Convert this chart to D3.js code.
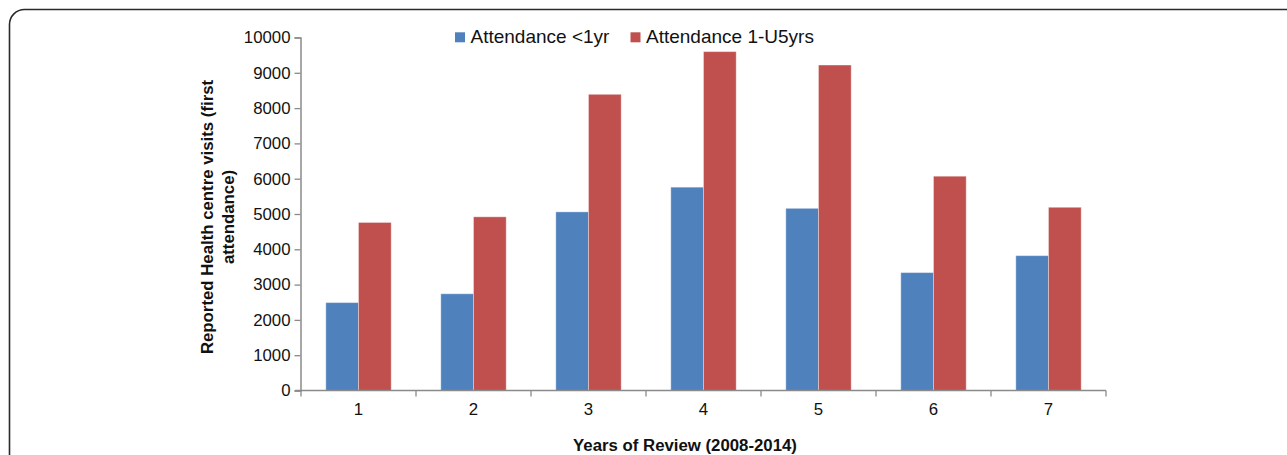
<!DOCTYPE html>
<html>
<head>
<meta charset="utf-8">
<script src="https://cdn.jsdelivr.net/npm/d3@7"></script>
<style>
  html, body { margin: 0; padding: 0; background: #fff; }
  svg { display: block; font-family: "Liberation Sans", Arial, Helvetica, sans-serif; }
</style>
</head>
<body>
<svg id="chart" width="1287" height="455"></svg>
<script>
const categories = ["1", "2", "3", "4", "5", "6", "7"];
const seriesNames = ["Attendance <1yr", "Attendance 1-U5yrs"];
const under1 = [2490, 2740, 5060, 5760, 5160, 3340, 3820];
const oneToU5 = [4760, 4920, 8390, 9600, 9220, 6070, 5190];
const yTicks = [0, 1000, 2000, 3000, 4000, 5000, 6000, 7000, 8000, 9000, 10000];
const colors = ["#4F81BD", "#C0504D"];

const svg = d3.select("#chart");

// frame
svg.append("rect")
  .attr("x", 9.5).attr("y", 9.5)
  .attr("width", 1300).attr("height", 470)
  .attr("rx", 15).attr("ry", 15)
  .attr("fill", "none").attr("stroke", "#2a2a2a").attr("stroke-width", 1.6);

const plotLeft = 301, plotRight = 1106, plotTop = 37.5, plotBottom = 390.5;

const x0 = d3.scaleBand().domain(categories).range([plotLeft, plotRight]).padding(0);
const barW = x0.bandwidth() * 0.2843;
const x1 = d3.scaleBand().domain(seriesNames)
  .range([x0.bandwidth() / 2 - barW, x0.bandwidth() / 2 + barW]).padding(0);
const y = d3.scaleLinear().domain([0, 10000]).range([plotBottom, plotTop]);

const data = categories.map((c, i) => ({ cat: c, vals: [under1[i], oneToU5[i]] }));

// bars
const g = svg.append("g");
data.forEach(d => {
  d.vals.forEach((v, si) => {
    g.append("rect")
      .attr("x", x0(d.cat) + x1(seriesNames[si]))
      .attr("y", y(v))
      .attr("width", x1.bandwidth())
      .attr("height", y(0) - y(v))
      .attr("fill", colors[si])
      .attr("stroke", "rgba(255,255,255,0.35)")
      .attr("stroke-width", 1);
  });
});

const axisColor = "#8a8a8a";

// y axis
const yAxis = svg.append("g")
  .attr("transform", `translate(${plotLeft - 0.5},0)`)
  .call(d3.axisLeft(y).tickValues(yTicks).tickSize(6).tickPadding(4).tickFormat(d3.format("d")));
yAxis.select(".domain").attr("stroke", axisColor).attr("stroke-width", 1.5);
yAxis.selectAll(".tick line").attr("stroke", axisColor).attr("stroke-width", 1.3);
yAxis.selectAll(".tick text")
  .attr("fill", "#111").attr("font-size", "16.8px")
  .attr("font-family", "'Liberation Sans', Arial, sans-serif");

// x axis labels
const xAxis = svg.append("g")
  .attr("transform", `translate(0,${plotBottom})`)
  .call(d3.axisBottom(x0).tickSize(0).tickPadding(13));
xAxis.select(".domain").remove();
xAxis.selectAll(".tick text")
  .attr("fill", "#111").attr("font-size", "16.8px")
  .attr("font-family", "'Liberation Sans', Arial, sans-serif");

// x axis line & boundary ticks
svg.append("line")
  .attr("x1", plotLeft - 6).attr("x2", plotRight)
  .attr("y1", plotBottom).attr("y2", plotBottom)
  .attr("stroke", axisColor).attr("stroke-width", 1.5);
const bounds = categories.map(c => x0(c)).concat([plotRight]);
svg.selectAll(".xb").data(bounds).enter().append("line")
  .attr("x1", d => d).attr("x2", d => d)
  .attr("y1", plotBottom).attr("y2", plotBottom + 6)
  .attr("stroke", axisColor).attr("stroke-width", 1.3);

// axis titles
svg.append("text")
  .attr("x", 685).attr("y", 451)
  .attr("text-anchor", "middle")
  .attr("font-weight", "bold").attr("font-size", "16.8px").attr("fill", "#111")
  .text("Years of Review (2008-2014)");

const yt = svg.append("text")
  .attr("transform", "translate(213,217) rotate(-90)")
  .attr("text-anchor", "middle")
  .attr("font-weight", "bold").attr("font-size", "16.8px").attr("fill", "#111");
yt.append("tspan").attr("x", 0).attr("dy", 0).text("Reported Health centre visits (first");
yt.append("tspan").attr("x", 0).attr("dy", 21).text("attendance)");

// legend
const legendPos = [455, 630.5];
seriesNames.forEach((s, i) => {
  svg.append("rect")
    .attr("x", legendPos[i]).attr("y", 32.3)
    .attr("width", 10).attr("height", 10)
    .attr("fill", colors[i]);
  svg.append("text")
    .attr("x", legendPos[i] + 15.5).attr("y", 43)
    .attr("font-size", "19px").attr("fill", "#111")
    .text(s);
});
</script>
</body>
</html>
